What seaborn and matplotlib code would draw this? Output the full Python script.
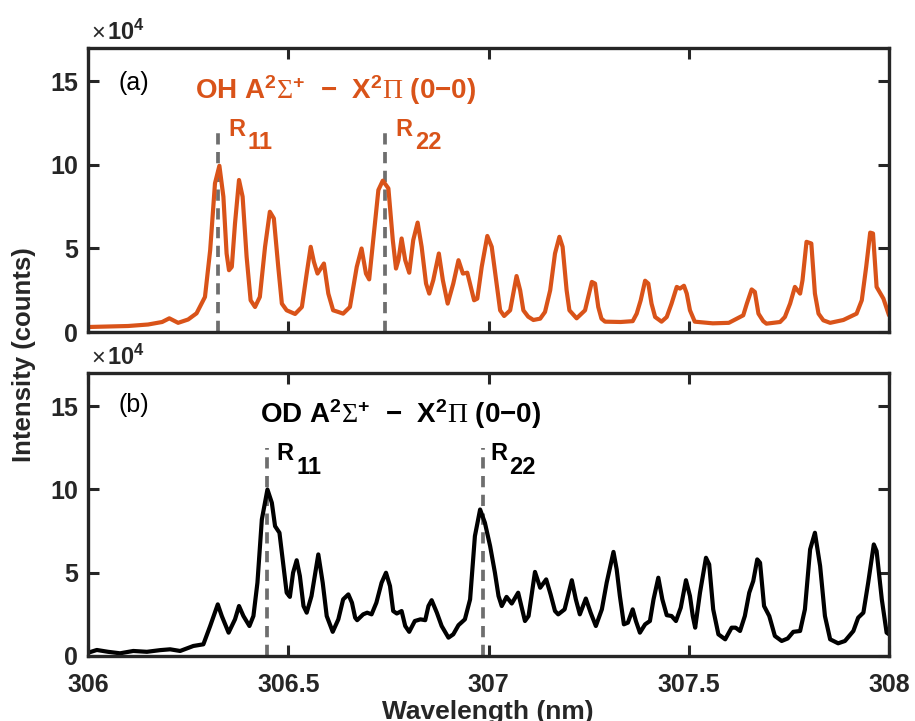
import numpy as np
import pandas as pd
import matplotlib
matplotlib.use("Agg")
import matplotlib.pyplot as plt
import seaborn as sns

# OH A-X (0-0) emission; intensity in units of 1e4 counts
oh_wavelength = [306.000, 306.050, 306.100, 306.150, 306.185, 306.203, 306.225, 306.250,
                 306.271, 306.292, 306.305, 306.317, 306.328, 306.338, 306.346, 306.352,
                 306.359, 306.367, 306.377, 306.386, 306.396, 306.406, 306.417, 306.429,
                 306.442, 306.454, 306.464, 306.475, 306.484, 306.496, 306.517, 306.534,
                 306.546, 306.556, 306.564, 306.573, 306.589, 306.600, 306.612, 306.625,
                 306.637, 306.654, 306.671, 306.683, 306.694, 306.702, 306.712, 306.725,
                 306.736, 306.750, 306.761, 306.769, 306.775, 306.783, 306.792, 306.802,
                 306.812, 306.823, 306.833, 306.844, 306.852, 306.862, 306.876, 306.886,
                 306.898, 306.912, 306.925, 306.936, 306.947, 306.964, 306.972, 306.983,
                 306.997, 307.008, 307.019, 307.029, 307.039, 307.054, 307.070, 307.079,
                 307.087, 307.099, 307.112, 307.129, 307.141, 307.154, 307.166, 307.177,
                 307.185, 307.195, 307.202, 307.220, 307.241, 307.249, 307.258, 307.266,
                 307.274, 307.282, 307.291, 307.330, 307.360, 307.370, 307.380, 307.391,
                 307.399, 307.407, 307.416, 307.432, 307.445, 307.457, 307.470, 307.478,
                 307.488, 307.495, 307.503, 307.515, 307.560, 307.600, 307.636, 307.645,
                 307.657, 307.665, 307.674, 307.686, 307.694, 307.711, 307.728, 307.740,
                 307.753, 307.765, 307.778, 307.784, 307.794, 307.806, 307.815, 307.824,
                 307.836, 307.853, 307.886, 307.919, 307.932, 307.943, 307.953, 307.960,
                 307.969, 307.986, 308.000]
oh_intensity = [0.30, 0.33, 0.36, 0.45, 0.60, 0.82, 0.55, 0.75,
                1.12, 2.10, 4.90, 8.90, 9.95, 8.10, 4.70, 3.70,
                3.90, 6.50, 9.10, 8.10, 4.50, 1.90, 1.50, 2.10,
                5.10, 7.20, 6.80, 3.90, 1.70, 1.30, 1.08, 1.50,
                3.50, 5.10, 4.20, 3.50, 4.10, 2.30, 1.30, 1.20,
                1.10, 1.50, 3.90, 5.00, 3.50, 3.15, 5.50, 8.50,
                9.06, 8.60, 5.50, 3.80, 4.30, 5.60, 4.30, 3.55,
                5.50, 6.55, 5.10, 2.90, 2.30, 3.10, 4.70, 3.10,
                1.70, 2.90, 4.30, 3.50, 3.55, 1.90, 2.00, 3.90,
                5.75, 5.10, 3.10, 1.30, 0.96, 1.30, 3.35, 2.50,
                1.30, 0.92, 0.72, 0.80, 1.20, 2.50, 4.70, 5.70,
                5.10, 2.50, 1.30, 0.82, 1.30, 2.10, 3.00, 2.90,
                1.50, 0.80, 0.62, 0.60, 0.65, 1.10, 1.90, 3.07,
                2.90, 1.70, 0.90, 0.62, 0.90, 1.70, 2.70, 2.60,
                2.77, 2.30, 1.30, 0.62, 0.52, 0.55, 1.00, 1.70,
                2.55, 2.40, 1.10, 0.65, 0.50, 0.55, 0.60, 0.90,
                1.70, 2.70, 2.30, 3.10, 5.40, 5.30, 2.30, 1.10,
                0.70, 0.55, 0.72, 1.10, 1.90, 3.90, 5.95, 5.90,
                2.70, 2.00, 1.00]

# OD A-X (0-0) emission; intensity in units of 1e4 counts
od_wavelength = [306.001, 306.022, 306.050, 306.080, 306.113, 306.147, 306.180, 306.205,
                 306.230, 306.263, 306.288, 306.305, 306.324, 306.334, 306.351, 306.367,
                 306.377, 306.388, 306.403, 306.413, 306.423, 306.434, 306.448, 306.459,
                 306.467, 306.478, 306.486, 306.496, 306.504, 306.512, 306.521, 306.529,
                 306.538, 306.546, 306.558, 306.575, 306.586, 306.596, 306.611, 306.625,
                 306.637, 306.650, 306.659, 306.667, 306.672, 306.687, 306.697, 306.708,
                 306.720, 306.733, 306.744, 306.754, 306.762, 306.771, 306.783, 306.792,
                 306.802, 306.816, 306.830, 306.842, 306.850, 306.858, 306.871, 306.883,
                 306.900, 306.912, 306.925, 306.941, 306.954, 306.966, 306.979, 306.991,
                 307.004, 307.016, 307.025, 307.033, 307.045, 307.058, 307.074, 307.091,
                 307.100, 307.116, 307.129, 307.144, 307.155, 307.166, 307.174, 307.190,
                 307.208, 307.218, 307.228, 307.243, 307.255, 307.268, 307.283, 307.295,
                 307.312, 307.320, 307.328, 307.338, 307.348, 307.360, 307.368, 307.378,
                 307.391, 307.403, 307.412, 307.424, 307.434, 307.445, 307.457, 307.468,
                 307.480, 307.493, 307.503, 307.510, 307.516, 307.528, 307.543, 307.551,
                 307.561, 307.574, 307.591, 307.607, 307.617, 307.628, 307.640, 307.651,
                 307.661, 307.671, 307.678, 307.688, 307.701, 307.715, 307.732, 307.747,
                 307.761, 307.778, 307.790, 307.803, 307.815, 307.828, 307.840, 307.853,
                 307.873, 307.890, 307.911, 307.923, 307.936, 307.948, 307.962, 307.969,
                 307.982, 307.994, 308.000]
od_intensity = [0.20, 0.36, 0.25, 0.16, 0.30, 0.25, 0.35, 0.40,
                0.30, 0.60, 0.70, 1.80, 3.10, 2.40, 1.40, 2.20,
                3.00, 2.40, 1.80, 2.40, 4.40, 8.20, 10.00, 9.20,
                7.80, 7.40, 5.80, 3.80, 3.55, 5.00, 5.75, 4.80,
                3.00, 2.60, 3.60, 6.10, 4.40, 2.40, 1.45, 2.20,
                3.40, 3.70, 3.20, 2.30, 2.15, 2.50, 2.60, 2.50,
                3.20, 4.40, 5.00, 4.20, 2.70, 2.55, 2.70, 1.80,
                1.45, 2.10, 2.20, 2.15, 3.00, 3.35, 2.60, 1.80,
                1.10, 1.30, 1.85, 2.20, 3.40, 7.20, 8.80, 8.00,
                6.60, 5.00, 3.60, 3.00, 3.55, 3.15, 3.80, 2.10,
                2.40, 5.05, 4.10, 4.60, 3.70, 2.70, 2.50, 2.80,
                4.55, 3.40, 2.50, 3.45, 2.60, 1.80, 2.80, 4.40,
                6.25, 5.20, 3.60, 1.90, 2.00, 2.80, 2.10, 1.40,
                1.90, 2.10, 3.40, 4.70, 3.40, 2.45, 2.40, 2.10,
                2.90, 4.55, 3.60, 2.40, 1.70, 3.80, 5.90, 5.50,
                2.80, 1.30, 1.00, 1.70, 1.70, 1.50, 2.40, 3.80,
                4.50, 5.80, 5.60, 3.00, 2.40, 1.20, 0.90, 1.05,
                1.45, 1.50, 2.80, 6.40, 7.40, 5.40, 2.40, 1.00,
                0.76, 0.90, 1.50, 2.30, 2.60, 4.40, 6.70, 6.30,
                3.40, 1.40, 1.30]

# R-branch heads marked on each spectrum
oh_heads = [306.324, 306.742]
od_heads = [306.446, 306.985]
head_subscripts = ["11", "22"]

x_ticks = [306, 306.5, 307, 307.5, 308]
x_ticklabels = ["306", "306.5", "307", "307.5", "308"]
y_ticks = [0, 5, 10, 15]

ORANGE = "#D95319"
DARK = "#262626"
GREY = "#6E6E6E"
MINUS = "\u2212"

sns.set_theme(style="ticks")
plt.rcParams["font.family"] = ["Liberation Sans", "DejaVu Sans"]
plt.rcParams["mathtext.fontset"] = "custom"
plt.rcParams["mathtext.rm"] = "Liberation Serif"
plt.rcParams["mathtext.bf"] = "Liberation Sans:bold"
plt.rcParams["mathtext.sf"] = "Liberation Sans"
plt.rcParams["mathtext.it"] = "Liberation Sans:italic"

fig = plt.figure(figsize=(9.15, 7.21), dpi=100)
ax_top = fig.add_axes([0.0962, 0.5395, 0.8754, 0.3939])
ax_bot = fig.add_axes([0.0962, 0.0902, 0.8754, 0.3925])

oh_df = pd.DataFrame({"wl": oh_wavelength, "I": oh_intensity})
od_df = pd.DataFrame({"wl": od_wavelength, "I": od_intensity})

panels = [
    dict(ax=ax_top, df=oh_df, col=ORANGE, heads=oh_heads, tag="(a)", tag_y=14.9,
         species="OH", dash_top=12.2, title_x=306.267, lab_x=[306.350, 306.767]),
    dict(ax=ax_bot, df=od_df, col="black", heads=od_heads, tag="(b)", tag_y=15.1,
         species="OD", dash_top=12.5, title_x=306.430, lab_x=[306.471, 307.004]),
]

for p in panels:
    ax, col = p["ax"], p["col"]
    for h in p["heads"]:
        ax.plot([h, h], [0, p["dash_top"]], color=GREY, lw=2.7,
                linestyle=(0, (3.0, 2.0)), zorder=1, solid_capstyle="butt")
    sns.lineplot(data=p["df"], x="wl", y="I", ax=ax, color=col, lw=3.0,
                 estimator=None, sort=False, zorder=2)
    ax.set_xlim(306, 308)
    ax.set_ylim(0, 17)
    ax.set_xticks(x_ticks)
    ax.set_yticks(y_ticks)
    ax.set_xlabel("")
    ax.set_ylabel("")
    ax.tick_params(axis="both", direction="in", length=8, width=2.2, color=DARK,
                   top=True, right=True, labelsize=18)
    ax.tick_params(axis="y", pad=7)
    ax.tick_params(axis="x", pad=12)
    for lab in ax.get_yticklabels():
        lab.set_fontweight("bold")
        lab.set_color(DARK)
    for sp in ax.spines.values():
        sp.set_linewidth(2.4)
        sp.set_color(DARK)
        sp.set_visible(True)

    ax.text(306.075, p["tag_y"], p["tag"], fontsize=18, color="black",
            va="center", ha="left")
    title = (p["species"] + r" A$^{\mathbf{2}}\Sigma^{\mathbf{+}}$  " + MINUS
             + r"  X$^{\mathbf{2}}\Pi$ (0" + MINUS + "0)")
    ax.text(p["title_x"], 14.5, title, fontsize=20, fontweight="bold",
            color=col, va="center", ha="left")
    for lx, sub in zip(p["lab_x"], head_subscripts):
        ax.text(lx, 12.15, "R", fontsize=17, fontweight="bold", color=col,
                va="center", ha="left")
        ax.annotate(sub, xy=(lx, 12.15), xytext=(14.0, -10),
                    textcoords="offset points", fontsize=17, fontweight="bold",
                    color=col, va="center", ha="left")
    ax.text(0.004, 1.012, "\u00d7", transform=ax.transAxes, fontsize=17,
            color=DARK, va="bottom", ha="left")
    ax.text(0.024, 1.012, r"10$^{\mathbf{4}}$", transform=ax.transAxes,
            fontsize=17, fontweight="bold", color=DARK, va="bottom", ha="left")

ax_top.set_xticklabels([])
ax_bot.set_xticklabels(x_ticklabels)
for lab in ax_bot.get_xticklabels():
    lab.set_fontweight("bold")
    lab.set_color(DARK)

fig.text(0.5335, 0.013, "Wavelength (nm)", fontsize=19, fontweight="bold",
         color=DARK, ha="center", va="center")
fig.text(0.026, 0.508, "Intensity (counts)", fontsize=18.5, fontweight="bold",
         color=DARK, ha="center", va="center", rotation=90)

fig.savefig("out.png", dpi=100)
